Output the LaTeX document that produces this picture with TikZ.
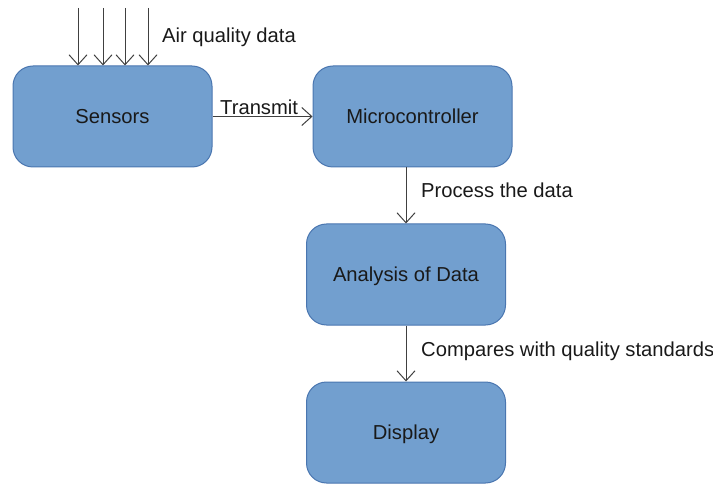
\documentclass[tikz,border=0pt]{standalone}
\usepackage{fontspec}
\setmainfont{Liberation Sans}
\usetikzlibrary{arrows.meta}
\definecolor{boxfill}{HTML}{729FCF}
\definecolor{boxline}{HTML}{4A76B0}
\newcommand{\FT}{\fontsize{20.2}{24}\selectfont}

\begin{document}
\begin{tikzpicture}[x=1pt,y=-1pt]
\tikzstyle{bloque}=[draw=boxline,fill=boxfill,line width=1pt,rounded corners=20pt,
  minimum width=199pt,minimum height=101pt,font=\FT,text=black!90,
  text height=14pt,text depth=0pt]
\tikzstyle{texto}=[draw=none,fill=none,black!90,font=\FT,inner sep=0pt,
  text height=14pt,text depth=0pt,anchor=west]
\tikzstyle{flecha}=[black!75,line width=1pt,-{Straight Barb[length=10pt,width=18pt]}]

\useasboundingbox (0,0) rectangle (713,484);

% bloques
\node[bloque] (sens)  at (112.5,116.5) {Sensors};
\node[bloque] (micro) at (412.5,116.5) {Microcontroller};
\node[bloque] (anal)  at (406,274.5)   {Analysis of Data};
\node[bloque] (disp)  at (406,432.5)   {Display};

% entradas de los sensores
\coordinate (in1) at (78,8);
\coordinate (in2) at (103,8);
\coordinate (in3) at (125,8);
\coordinate (in4) at (148,8);
\foreach \i in {1,...,4}
  \draw[flecha] (in\i) -- (in\i |- sens.north);

% conexiones
\draw[flecha] (sens) -- (micro);
\draw[flecha] (micro.south -| anal) -- (anal);
\draw[flecha] (anal) -- (disp);

% etiquetas
\node[texto] (laire) at (162,36)  {Air quality data};
\node[texto] (ltran) at (220,108) {Transmit};
\node[texto] (lproc) at (421,191) {Process the data};
\node[texto] (lcomp) at (421,349) {Compares with quality standards};
\end{tikzpicture}
\end{document}
